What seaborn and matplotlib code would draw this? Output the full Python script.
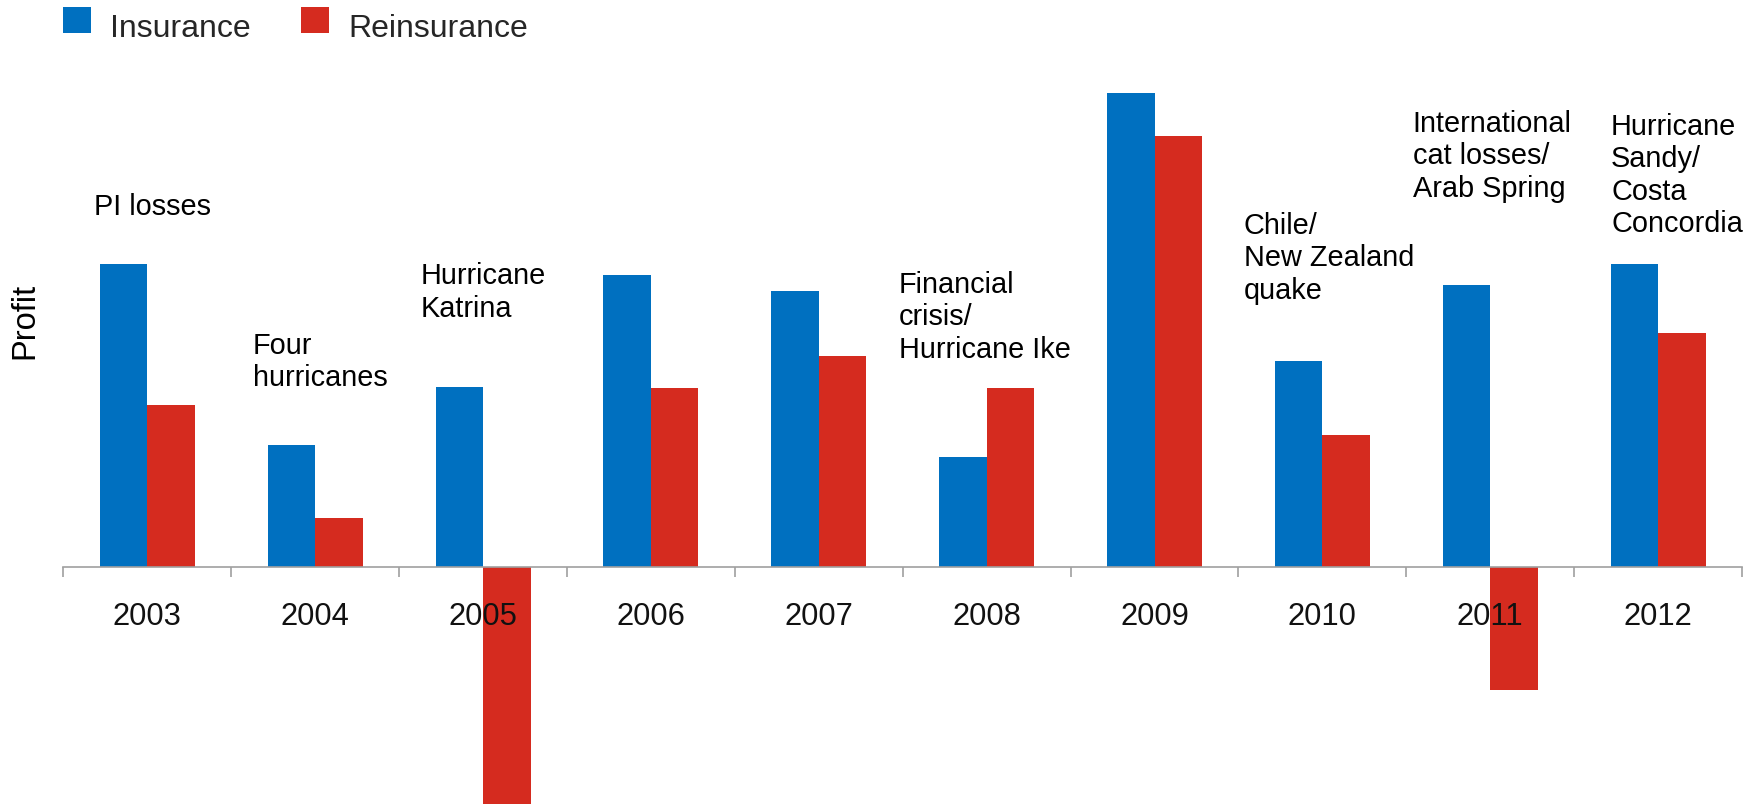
import matplotlib
matplotlib.use("Agg")
import matplotlib.pyplot as plt
from matplotlib.patches import Rectangle
from matplotlib.legend_handler import HandlerPatch
import seaborn as sns
import pandas as pd
import numpy as np

# ---- data (relative profit; 2009 insurance = 100) ----
years = ["2003", "2004", "2005", "2006", "2007", "2008", "2009", "2010", "2011", "2012"]
insurance = [63.9, 25.7, 38.0, 61.6, 58.2, 23.2, 100.0, 43.5, 59.5, 63.9]
reinsurance = [34.2, 10.3, -50.0, 37.8, 44.5, 37.8, 90.9, 27.8, -25.9, 49.3]
series_names = ["Insurance", "Reinsurance"]
events = ["PI losses", "Four\nhurricanes", "Hurricane\nKatrina", "Financial\ncrisis/\nHurricane Ike",
          "Chile/\nNew Zealand\nquake", "International\ncat losses/\nArab Spring",
          "Hurricane\nSandy/\nCosta\nConcordia"]

# ---- layout / style ----
event_x = [-0.32, 0.627, 1.63, 4.477, 6.533, 7.539, 8.72]
event_y = [79.0, 49.6, 64.3, 62.5, 74.9, 96.4, 95.8]
colors = ["#0070C0", "#D52B1F"]
W, H, DPI = 1756, 806, 100
FS_NOTE = 20.8
FS_TICK = 22.2
FS_LEG = 23.0
FS_YLAB = 23.5

df = pd.DataFrame({
    "year": years * 2,
    "series": [series_names[0]] * len(years) + [series_names[1]] * len(years),
    "value": insurance + reinsurance,
})

sns.set_theme(style="white")
plt.rcParams["font.family"] = ["Liberation Sans", "DejaVu Sans"]

fig = plt.figure(figsize=(W / DPI, H / DPI), dpi=DPI)
left_px, right_px = 63.5, 1742.0
ax = fig.add_axes([left_px / W, 0.0, (right_px - left_px) / W, 1.0])

sns.barplot(data=df, x="year", y="value", hue="series", palette=colors,
            saturation=1, width=0.566, gap=0, errorbar=None, linewidth=0, ax=ax)
ax.set_axisbelow(False)

px_per_unit = 4.74
base_px = 567.0
ax.set_ylim(-(H - base_px) / px_per_unit, base_px / px_per_unit)
ax.set_xlim(-0.5, len(years) - 0.5)

for s in ["top", "right", "left"]:
    ax.spines[s].set_visible(False)
ax.spines["bottom"].set_position(("data", 0))
ax.spines["bottom"].set_color("#A0A0A0")
ax.spines["bottom"].set_linewidth(1.2)
ax.spines["bottom"].set_zorder(3)
ax.xaxis.set_zorder(3)

ax.set_yticks([])
ax.set_xticks(range(len(years)))
ax.set_xticklabels(years, fontsize=FS_TICK)
ax.set_xticks(np.arange(-0.5, len(years)), minor=True)
ax.tick_params(axis="x", which="major", length=0, pad=25.5, labelcolor="#111111")
ax.tick_params(axis="x", which="minor", length=7.5, width=1.2, color="#A0A0A0", direction="out", bottom=True)
ax.set_xlabel("")

ax.set_ylabel("Profit", fontsize=FS_YLAB, color="black")
ax.yaxis.set_label_coords(-0.0136, 0.602)

for t, x, y in zip(events, event_x, event_y):
    ax.text(x, y, t, fontsize=FS_NOTE, ha="left", va="top", color="black", linespacing=1.2)

raise_pt = 4.5


def square_patch(legend, orig_handle, xdescent, ydescent, width, height, fontsize):
    return Rectangle((-xdescent, -ydescent + raise_pt), width, height)


handles, labels = ax.get_legend_handles_labels()
ax.legend(handles, labels, loc="upper left", bbox_to_anchor=(62.7 / W, 1 - 13.0 / H),
          bbox_transform=fig.transFigure, ncol=2, frameon=False, fontsize=FS_LEG,
          handlelength=0.877, handleheight=0.877, handletextpad=0.60, columnspacing=1.58,
          borderpad=0, borderaxespad=0,
          handler_map={Rectangle: HandlerPatch(patch_func=square_patch)})

fig.savefig("out.png", dpi=DPI)
